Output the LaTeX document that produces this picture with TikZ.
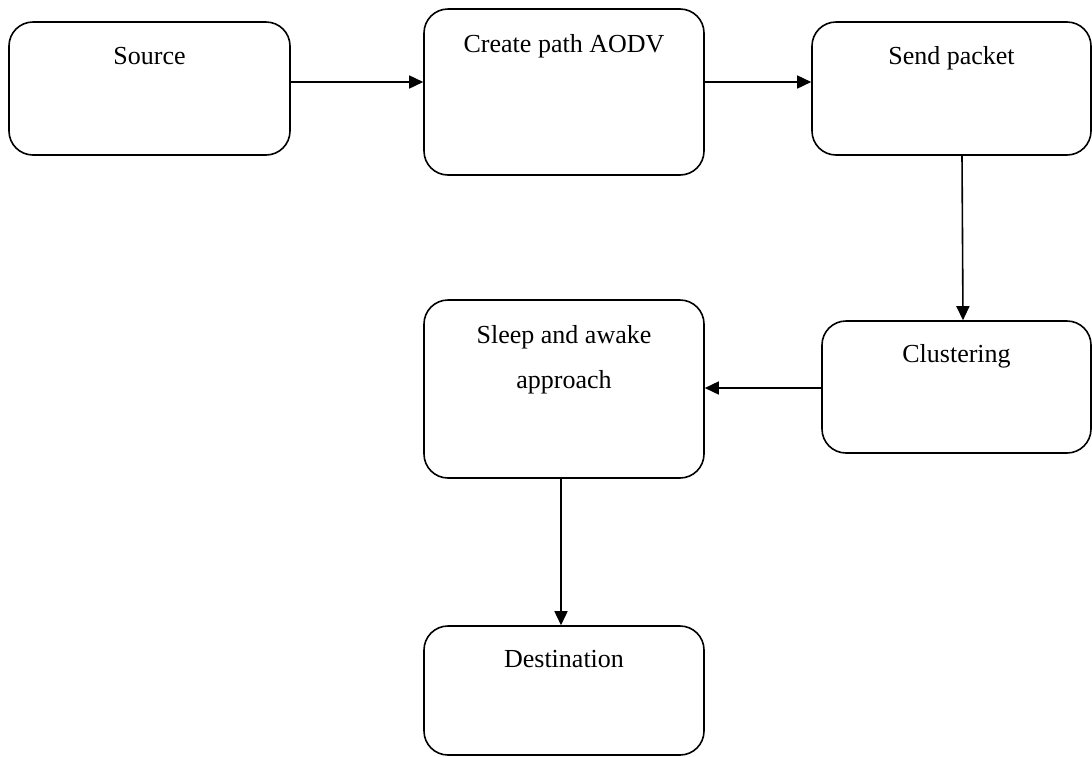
\documentclass[tikz,border=0pt]{standalone}
\usepackage{fontspec}
\setmainfont{Liberation Serif}
\usetikzlibrary{arrows.meta}
\begin{document}
\begin{tikzpicture}[x=1pt,y=-1pt,
  box/.style={draw=black,line width=1.6pt,rounded corners=24pt,inner sep=0pt,fill=none},
  lbl/.style={inner sep=0pt,anchor=base,font=\fontsize{26}{45}\selectfont},
  arr/.style={line width=1.6pt,-{Triangle[length=14pt,width=13pt]}}]
\useasboundingbox (0,0) rectangle (1092,756);
% boxes
\node[box,minimum width=281pt,minimum height=133pt] (src) at (149.5,88.5) {};
\node[box,minimum width=280pt,minimum height=166pt] (cre) at (564,92) {};
\node[box,minimum width=279pt,minimum height=133pt] (snd) at (951.5,88.5) {};
\node[box,minimum width=269pt,minimum height=132pt] (clu) at (956.5,387) {};
\node[box,minimum width=280pt,minimum height=178pt] (slp) at (564,389) {};
\node[box,minimum width=280pt,minimum height=129pt] (dst) at (564,690.5) {};
% labels
\node[lbl] (srcT) at (149.5,64) {Source};
\node[lbl] (creT) at (564,52) {Create path AODV};
\node[lbl] (sndT) at (951.5,64) {Send packet};
\node[lbl] (cluT) at (956.5,362) {Clustering};
\node[lbl] (slpT1) at (564,343) {Sleep and awake};
\node[lbl] (slpT2) at (564,388) {approach};
\node[lbl] (dstT) at (564,667) {Destination};
% connectors
\coordinate (r1) at (0,82);
\coordinate (r2) at (0,388);
\draw[arr] (src.east |- r1) -- (cre.west |- r1);
\draw[arr] (cre.east |- r1) -- (snd.west |- r1);
\draw[arr] ([xshift=10.5pt]snd.south) -- ([xshift=6.5pt]clu.north);
\draw[arr] (clu.west |- r2) -- (slp.east |- r2);
\draw[arr] ([xshift=-3pt]slp.south) -- ([xshift=-3pt]dst.north);
\end{tikzpicture}
\end{document}
